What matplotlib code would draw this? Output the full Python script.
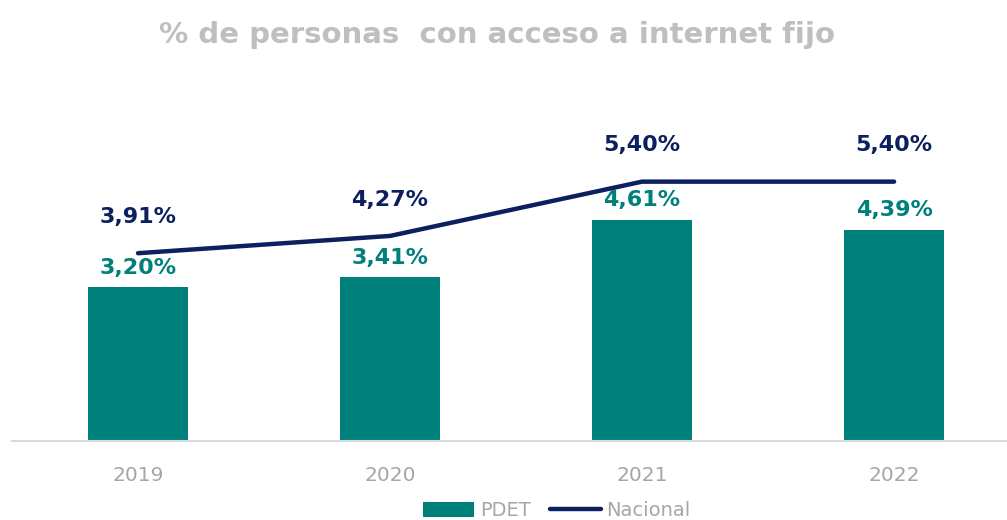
import matplotlib.pyplot as plt
import numpy as np

years = ['2019', '2020', '2021', '2022']
pdet = [3.20, 3.41, 4.61, 4.39]
nacional = [3.91, 4.27, 5.40, 5.40]

teal = '#00807A'
navy = '#0C1F5E'
gray = '#A6A6A6'

plt.rcParams['font.family'] = ['DejaVu Sans']


def fmt(v):
    return f'{v:.2f}%'.replace('.', ',')


fig = plt.figure(figsize=(10.07, 5.2), dpi=100)
ax = fig.add_axes([12 / 1007, 79 / 520, 995 / 1007, 341 / 520])

x = np.arange(len(years))
bars = ax.bar(x, pdet, width=0.4, color=teal, label='PDET', zorder=2)
line, = ax.plot(x, nacional, color=navy, lw=3.2, solid_capstyle='round',
                label='Nacional', zorder=3)

# labels on bars and line
for xi, v in zip(x, pdet):
    ax.annotate(fmt(v), (xi, v), xytext=(0, 7), textcoords='offset points',
                ha='center', va='bottom', color=teal, fontsize=16,
                fontweight='bold')
for xi, v in zip(x, nacional):
    ax.annotate(fmt(v), (xi, v), xytext=(0, 19), textcoords='offset points',
                ha='center', va='bottom', color=navy, fontsize=16,
                fontweight='bold')

ax.set_xlim(-0.5, 3.448)
ax.set_ylim(0, 7.1)
ax.set_xticks(x)
ax.set_xticklabels(years, color=gray, fontsize=14.5)
ax.tick_params(axis='x', length=0, pad=18)
ax.set_yticks([])
for s in ['top', 'right', 'left']:
    ax.spines[s].set_visible(False)
ax.spines['bottom'].set_color('#D9D9D9')
ax.spines['bottom'].set_linewidth(1.5)

fig.text(497 / 1007, 1 - 35 / 520, '% de personas  con acceso a internet fijo',
         ha='center', va='center', color='#BFBFBF', fontsize=21,
         fontweight='bold')

leg = fig.legend([bars, line], ['PDET', 'Nacional'], loc='center',
                 bbox_to_anchor=(557 / 1007, 1 - 511 / 520),
                 ncol=2, frameon=False, fontsize=14, handlelength=2.6,
                 handleheight=0.8, columnspacing=1.0, handletextpad=0.3)
for t in leg.get_texts():
    t.set_color(gray)

plt.savefig('out.png', dpi=100)
